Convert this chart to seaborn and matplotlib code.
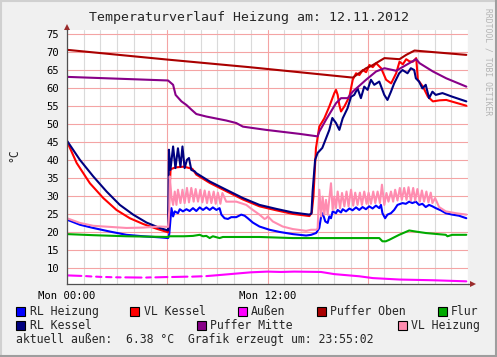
import numpy as np
import pandas as pd
import matplotlib
matplotlib.use("Agg")
import matplotlib.pyplot as plt
import seaborn as sns
from matplotlib.patches import Rectangle
from matplotlib.lines import Line2D

# ---- data (hours since Mon 00:00, degrees C) ----
rl_heizung_t = [0, 0.77, 1.57, 2.57, 3.56, 4.56, 5.55, 6.05, 6.12, 6.25, 6.35, 6.45, 6.64, 6.75, 6.94, 7.15,
                7.34, 7.54, 7.74, 7.94, 8.14, 8.34, 8.54, 8.73, 8.94, 9.13, 9.24, 9.43, 9.63, 9.83, 10.13, 10.43,
                10.63, 10.82, 11.12, 11.52, 12.12, 12.72, 13.51, 14.31, 14.61, 14.91, 15.10, 15.21, 15.30, 15.46,
                15.60, 15.70, 15.80, 15.90, 16.10, 16.20, 16.40, 16.50, 16.70, 16.90, 17.09, 17.30, 17.49, 17.69,
                17.89, 18.09, 18.29, 18.49, 18.69, 18.79, 18.88, 19.04, 19.18, 19.39, 19.58, 19.78, 20.08, 20.28,
                20.48, 20.67, 20.88, 21.07, 21.27, 21.47, 21.67, 21.87, 22.07, 22.37, 22.67, 23.06, 23.46, 23.9]
rl_heizung_v = [23.5, 22.1, 21.2, 20.2, 19.3, 18.9, 18.6, 18.4, 19.5, 26.7, 24.4, 25.8, 25.3, 26.4, 25.8, 26.4,
                25.9, 26.7, 25.9, 26.9, 26.2, 26.9, 26.2, 26.9, 26.2, 26.7, 24.9, 23.9, 23.7, 24.2, 24.2, 24.9,
                24.6, 23.9, 22.7, 21.6, 20.7, 20.1, 19.5, 19.1, 19.3, 19.8, 21.2, 24.4, 25.3, 23.0,
                22.6, 24.4, 23.9, 25.8, 25.3, 26.2, 25.5, 26.4, 25.8, 26.6, 26.1, 26.9, 26.2, 27.0,
                26.4, 27.2, 26.6, 27.4, 26.7, 27.6, 25.3, 23.9, 24.9, 25.3, 26.2, 27.6, 28.1, 27.9,
                28.5, 28.1, 28.5, 27.6, 27.9, 27.0, 27.6, 27.2, 26.7, 26.1, 25.3, 24.9, 24.6, 23.9]

vl_kessel_t = [0, 0.58, 1.37, 2.17, 2.96, 3.76, 4.56, 5.35, 6.05, 6.12, 6.2, 6.5, 7.0, 7.5, 7.74, 8.54, 9.53,
               10.53, 11.52, 12.52, 13.51, 14.51, 14.65, 14.75, 14.9, 15.1, 15.4, 15.7, 16.0, 16.1, 16.2, 16.3,
               16.4, 16.6, 16.9, 17.1, 17.3, 17.5, 17.7, 17.9, 18.1, 18.3, 18.5, 18.8, 19.1, 19.4, 19.7, 19.9,
               20.1, 20.3, 20.5, 20.7, 20.9, 21.0, 21.3, 21.6, 21.9, 22.3, 22.7, 23.3, 23.9]
vl_kessel_v = [45.2, 39.2, 33.6, 29.5, 26.2, 23.9, 22.3, 21.0, 20.0, 30.0, 37.5, 38.0, 38.2, 37.6, 36.0, 33.7,
               31.4, 29.1, 27.2, 26.1, 25.1, 24.5, 25.5, 30.0, 43.3, 49.3, 51.6, 54.9, 58.6, 59.5, 58.1, 55.3,
               53.5, 54.9, 57.6, 62.3, 64.1, 63.6, 65.0, 64.4, 66.4, 65.8, 66.9, 65.5, 62.3, 61.3, 64.1, 67.3,
               66.6, 68.0, 67.4, 67.3, 68.3, 62.3, 60.4, 57.6, 56.3, 56.6, 56.7, 55.9, 55.1]

aussen_t = [0.0, 0.86, 0.95, 1.14, 1.46, 1.55, 1.74, 2.06, 2.15, 2.34, 2.66, 2.75, 2.94, 3.21, 3.3, 3.49,
            4.46, 4.55, 4.74, 5.01, 5.1, 5.29, 6.01, 6.1, 6.29, 7.21, 7.3, 7.49, 8.06, 8.15, 8.34, 9.0, 10.0,
            11.0, 12.0, 12.8, 13.6, 15.2, 16.0, 17.5, 18.3, 19.9, 21.9, 23.9]
aussen_v = [8.05, 7.9, np.nan, 7.85, 7.75, np.nan, 7.7, 7.62, np.nan, 7.6, 7.55, np.nan, 7.52, 7.5, np.nan, 7.5,
            7.45, np.nan, 7.45, 7.5, np.nan, 7.5, 7.6, np.nan, 7.6, 7.7, np.nan, 7.7, 7.8, np.nan, 7.85, 8.1, 8.5,
            8.9, 9.1, 9.0, 9.1, 9.0, 8.4, 7.8, 7.3, 6.9, 6.7, 6.4]

puffer_oben_t = [0, 6.0, 10.9, 13.9, 17.1, 17.2, 17.9, 18.2, 19.0, 19.9, 20.3, 20.8, 23.9]
puffer_oben_v = [70.6, 67.9, 65.8, 64.4, 62.9, 63.2, 65.5, 66.1, 68.3, 68.0, 69.2, 70.4, 69.2]

flur_t = [0, 1.57, 3.56, 6.05, 6.15, 7.0, 7.54, 7.94, 8.14, 8.34, 8.54, 8.73, 9.13, 9.33, 11.52, 13.51,
          18.69, 18.88, 19.08, 19.28, 19.88, 20.48, 20.88, 21.47, 22.67, 22.77, 23.06, 23.9]
flur_v = [19.5, 19.2, 18.9, 18.7, 18.9, 18.9, 19.0, 19.3, 18.9, 19.0, 18.4, 18.9, 18.4, 18.7, 18.7, 18.4,
          18.4, 17.5, 17.5, 17.9, 19.3, 20.5, 20.2, 19.8, 19.3, 18.9, 19.3, 19.3]

rl_kessel_t = [0, 0.77, 1.57, 2.37, 3.16, 3.96, 4.76, 5.55, 6.05, 6.1, 6.19, 6.35, 6.49, 6.64, 6.79, 6.91,
               7.04, 7.18, 7.3, 7.44, 7.64, 7.74, 8.54, 9.53, 10.53, 11.52, 12.52, 13.51, 14.51, 14.63, 14.7,
               14.85, 15.0, 15.28, 15.70, 15.88, 16.10, 16.30, 16.50, 16.79, 17.0, 17.19, 17.39, 17.59, 17.79,
               17.99, 18.19, 18.39, 18.69, 18.99, 19.18, 19.39, 19.58, 19.88, 20.08, 20.38, 20.58, 20.78, 20.88,
               21.07, 21.27, 21.47, 21.67, 21.87, 22.07, 22.47, 23.06, 23.9]
rl_kessel_v = [45.4, 40.1, 35.5, 31.3, 27.6, 24.9, 22.7, 21.2, 20.5, 42.9, 37.3, 43.8, 37.8, 43.3, 38.2, 43.8,
               37.8, 40.1, 40.6, 37.3, 36.9, 36.4, 34.1, 31.8, 29.5, 27.6, 26.5, 25.5, 24.9, 25.2, 31.3,
               40.1, 42.0, 43.4, 48.4, 51.7, 50.3, 48.4, 51.6, 54.4, 57.6, 58.1, 59.9, 57.2, 60.4,
               59.5, 62.3, 60.9, 61.8, 58.1, 56.7, 59.0, 61.3, 64.1, 65.0, 64.1, 65.5, 65.0, 62.7,
               61.8, 59.9, 60.9, 57.2, 59.0, 58.1, 58.6, 57.6, 56.3]

puffer_mitte_t = [0, 6.05, 6.35, 6.5, 6.85, 7.15, 7.45, 7.74, 8.34, 9.53, 10.13, 10.53, 11.92, 13.91, 15.0, 15.1,
                  15.5, 16.1, 16.4, 16.8, 17.1, 17.9, 18.5, 19.0, 19.7, 20.3, 20.9, 21.1, 21.9, 22.7, 23.9]
puffer_mitte_v = [63.1, 62.1, 60.9, 58.1, 56.3, 55.3, 54.0, 52.8, 52.1, 51.0, 50.3, 49.3, 48.4, 47.3, 46.6, 47.9,
                  51.2, 55.8, 57.2, 57.2, 59.0, 62.3, 64.6, 65.5, 64.8, 66.4, 68.0, 66.9, 64.6, 62.7, 60.4]

vl_heizung_t = [0, 0.77, 1.57, 2.57, 3.56, 4.56, 5.55, 6.05, 6.12, 6.15, 6.25, 6.35, 6.45, 6.55, 6.64, 6.79,
                6.91, 7.04, 7.18, 7.30, 7.44, 7.58, 7.70, 7.84, 7.98, 8.10, 8.24, 8.38, 8.50, 8.64, 8.78, 8.90,
                9.03, 9.18, 9.30, 9.53, 10.13, 10.73, 11.12, 11.52, 11.82, 11.92, 12.02, 12.32, 12.91, 13.51,
                14.31, 14.61, 14.91, 15.0, 15.10, 15.21, 15.30, 15.40, 15.50, 15.60, 15.80, 15.90, 16.0, 16.10,
                16.20, 16.34, 16.46, 16.60, 16.73, 16.85, 17.0, 17.13, 17.25, 17.39, 17.53, 17.65, 17.79, 17.93,
                18.05, 18.19, 18.33, 18.45, 18.59, 18.73, 18.85, 18.99, 19.12, 19.24, 19.39, 19.52, 19.64, 19.78,
                19.92, 20.04, 20.18, 20.32, 20.44, 20.58, 20.72, 20.84, 20.97, 21.12, 21.24, 21.37, 21.51, 21.63,
                21.77, 21.87, 22.03, 22.27, 22.67, 23.27, 23.9]
vl_heizung_v = [23.9, 22.6, 21.8, 21.5, 21.2, 21.3, 21.6, 21.5, 26.0, 35.5, 29.9, 27.6, 31.3, 27.6, 31.8, 28.1,
                31.8, 28.1, 32.3, 28.3, 32.3, 28.5, 32.0, 28.5, 31.8, 28.3, 31.6, 28.1, 31.3, 28.1, 31.3, 27.9,
                31.0, 27.9, 30.9, 28.5, 28.5, 27.6, 26.2, 24.9, 23.7, 23.9, 24.4, 23.0, 21.6, 20.9,
                20.4, 20.7, 20.7, 21.0, 31.8, 24.4, 29.9, 24.9, 29.0, 24.9, 33.6, 26.2, 29.9, 26.7,
                31.3, 26.7, 30.9, 27.2, 31.3, 27.2, 31.8, 27.4, 31.0, 27.6, 31.0, 27.6, 31.3, 27.9,
                31.0, 27.9, 31.3, 28.1, 31.3, 28.1, 33.2, 27.6, 30.9, 28.5, 31.3, 28.5, 31.8, 28.8,
                32.3, 29.0, 32.3, 29.0, 32.5, 28.8, 32.3, 28.8, 32.0, 28.5, 31.6, 28.5, 31.3, 28.3,
                31.0, 28.1, 29.5, 27.0, 25.8, 25.3, 24.9]

# legend order == draw order
series = [
    ("RL Heizung", "#0000ff", rl_heizung_t, rl_heizung_v),
    ("VL Kessel", "#ff0000", vl_kessel_t, vl_kessel_v),
    ("Außen", "#ff00ff", aussen_t, aussen_v),
    ("Puffer Oben", "#aa0000", puffer_oben_t, puffer_oben_v),
    ("Flur", "#00aa00", flur_t, flur_v),
    ("RL Kessel", "#000080", rl_kessel_t, rl_kessel_v),
    ("Puffer Mitte", "#880088", puffer_mitte_t, puffer_mitte_v),
    ("VL Heizung", "#ff8cb0", vl_heizung_t, vl_heizung_v),
]

title = "Temperaturverlauf Heizung am: 12.11.2012"
footer = "aktuell außen:  6.38 °C  Grafik erzeugt um: 23:55:02"
x_labels = ["Mon 00:00", "", "Mon 12:00", ""]

sns.set_style("white")
plt.rcParams['font.family'] = ['DejaVu Sans Mono']

W, H = 497, 357
fig = plt.figure(figsize=(W / 100, H / 100), dpi=100, facecolor="#f0f0f0")
ax = fig.add_axes([67 / W, (H - 283.5) / H, 401 / W, (283.5 - 30) / H])
ax.set_facecolor("white")

for name, col, t, v in series:
    df = pd.DataFrame({"t": t, "v": v})
    # split on gaps (unknown values) so the line breaks
    seg = df["v"].isna().cumsum()
    for _, part in df.dropna().groupby(seg[df["v"].notna()]):
        sns.lineplot(data=part, x="t", y="v", color=col, lw=1.5, ax=ax,
                     estimator=None, sort=False, legend=False)

ax.set_xlim(0, 24)
ax.set_ylim(5.8, 76.1)
ax.set_xlabel("")
ax.set_ylabel("")

ax.set_xticks([0, 6, 12, 18])
ax.set_xticklabels(x_labels)
ax.set_xticks(range(0, 25), minor=True)
ax.set_yticks(range(10, 80, 5))
ax.grid(which="minor", axis="x", color="#dadada", lw=0.8, zorder=0)
ax.grid(which="major", axis="both", color="#f4a4a4", lw=0.8, zorder=0)
ax.set_axisbelow(True)
ax.tick_params(axis="both", which="major", labelsize=7.6, length=2.5, width=0.8,
               color="#404040", pad=3, labelcolor="black")
ax.tick_params(axis="x", which="minor", length=0)

for s in ["top", "right"]:
    ax.spines[s].set_visible(False)
for s in ["left", "bottom"]:
    ax.spines[s].set_color("#505050")
    ax.spines[s].set_linewidth(0.9)

# axis arrows
ax.plot([1.0, 1.012], [0, 0], transform=ax.transAxes, color="#505050", lw=0.9, clip_on=False)
ax.plot([0, 0], [1.0, 1.01], transform=ax.transAxes, color="#505050", lw=0.9, clip_on=False)
ax.plot(1.012, 0, marker=">", ms=4, color="#9b2b2b", transform=ax.transAxes, clip_on=False, mew=0)
ax.plot(0, 1.012, marker="^", ms=4, color="#9b2b2b", transform=ax.transAxes, clip_on=False, mew=0)

fig.text(249 / W, 1 - 17 / H, title, ha="center", va="center", fontsize=9.5)
fig.text(14 / W, 1 - 155 / H, "°C", rotation=90, ha="center", va="center", fontsize=8.3)
fig.text(488 / W, 1 - 62 / H, "RRDTOOL / TOBI OETIKER", rotation=270, ha="center", va="center",
         fontsize=5.8, color="#b4b4b4")

# legend laid out like rrdtool
legend_pos = [(16, 30, 311.5), (130, 144, 311.5), (237.5, 251, 311.5), (317, 330, 311.5),
              (437.5, 451, 311.5), (16, 30, 325.5), (197, 210, 325.5), (398, 411, 325.5)]
for (name, col, _, _), (xs, xt, yc) in zip(series, legend_pos):
    fig.add_artist(Rectangle((xs / W, 1 - (yc + 4.5) / H), 9 / W, 9 / H, transform=fig.transFigure,
                             facecolor=col, edgecolor="black", lw=0.8))
    fig.text(xt / W, 1 - yc / H, name, ha="left", va="center", fontsize=8.3)
fig.text(16.5 / W, 1 - 339.5 / H, footer, ha="left", va="center", fontsize=8.3)

# rrdtool-style shaded frame
fig.add_artist(Line2D([0, 1], [1 - 1 / H, 1 - 1 / H], transform=fig.transFigure, color="#d0d0d0", lw=1.5))
fig.add_artist(Line2D([1 / W, 1 / W], [0, 1], transform=fig.transFigure, color="#d0d0d0", lw=1.5))
fig.add_artist(Line2D([0, 1], [1 / H, 1 / H], transform=fig.transFigure, color="#9e9e9e", lw=1.5))
fig.add_artist(Line2D([1 - 1 / W, 1 - 1 / W], [0, 1], transform=fig.transFigure, color="#9e9e9e", lw=1.5))

fig.savefig("out.png", dpi=100, facecolor=fig.get_facecolor())
